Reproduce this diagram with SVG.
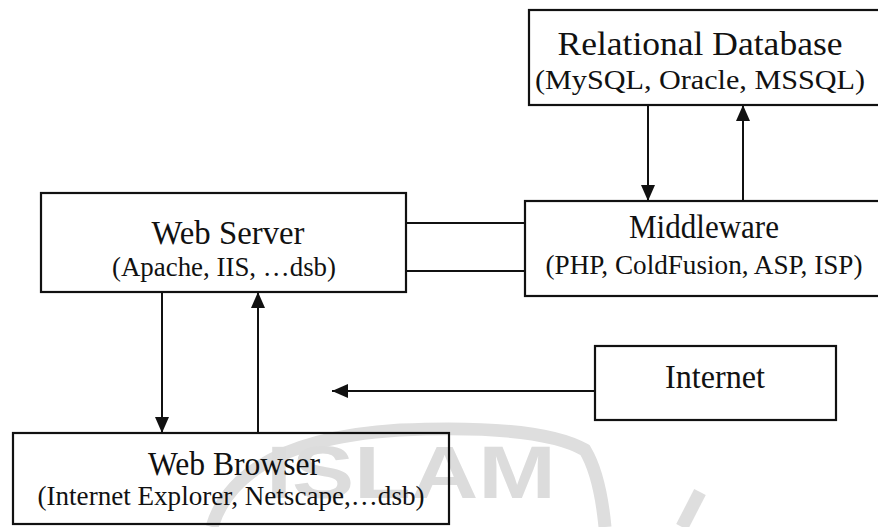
<svg xmlns="http://www.w3.org/2000/svg" width="878" height="527" viewBox="0 0 878 527">
<style>
.box{fill:none;stroke:#111;stroke-width:2.2}
.t{font-family:"Liberation Serif","Times New Roman",Tinos,serif;fill:#111;text-anchor:middle}
.h{font-size:33px}
.s{font-size:27px}
.c{fill:none;stroke:#111;stroke-width:2}
.wm{fill:none;stroke:#dedede;stroke-width:13}
</style>
<defs>
<marker id="ah" markerUnits="userSpaceOnUse" markerWidth="16" markerHeight="14" refX="16" refY="7" orient="auto">
<path d="M0,0 L16,7 L0,14 z" fill="#111"/>
</marker>
</defs>
<rect width="878" height="527" fill="#fff"/>
<g id="watermark">
<path class="wm" d="M212,527 Q238,440 400,430 Q540,424 585,450 Q600,475 605,527"/>
<path class="wm" d="M682,527 L700,492"/>
<text x="411" y="498" font-family="Liberation Sans,Arial,sans-serif" font-weight="bold" font-size="74" fill="#dcdcdc" text-anchor="middle" textLength="290" lengthAdjust="spacingAndGlyphs">ISLAM</text>
</g>
<g id="connectors">
<line class="c" x1="648" y1="105" x2="648" y2="201" marker-end="url(#ah)"/>
<line class="c" x1="743" y1="201" x2="743" y2="105" marker-end="url(#ah)"/>
<line class="c" x1="406" y1="223" x2="525" y2="223"/>
<line class="c" x1="406" y1="271" x2="525" y2="271"/>
<line class="c" x1="162" y1="292" x2="162" y2="433" marker-end="url(#ah)"/>
<line class="c" x1="258" y1="433" x2="258" y2="292" marker-end="url(#ah)"/>
<line class="c" x1="595" y1="391" x2="332" y2="391" marker-end="url(#ah)"/>
</g>
<g id="relational-database">
<rect class="box" x="529" y="10" width="360" height="95"/>
<text class="t h" x="700" y="55" textLength="285" lengthAdjust="spacingAndGlyphs">Relational Database</text>
<text class="t s" x="700" y="89" textLength="330" lengthAdjust="spacingAndGlyphs">(MySQL, Oracle, MSSQL)</text>
</g>
<g id="middleware">
<rect class="box" x="525" y="201" width="364" height="95"/>
<text class="t h" x="704" y="238" textLength="150" lengthAdjust="spacingAndGlyphs">Middleware</text>
<text class="t s" x="704" y="274" textLength="317" lengthAdjust="spacingAndGlyphs">(PHP, ColdFusion, ASP, ISP)</text>
</g>
<g id="web-server">
<rect class="box" x="41" y="193" width="365" height="99"/>
<text class="t h" x="228" y="244" textLength="153" lengthAdjust="spacingAndGlyphs">Web Server</text>
<text class="t s" x="224" y="276" textLength="224" lengthAdjust="spacingAndGlyphs">(Apache, IIS, …dsb)</text>
</g>
<g id="web-browser">
<rect class="box" x="13" y="433" width="436" height="91"/>
<text class="t h" x="234" y="475" textLength="172" lengthAdjust="spacingAndGlyphs">Web Browser</text>
<text class="t s" x="231" y="505" textLength="387" lengthAdjust="spacingAndGlyphs">(Internet Explorer, Netscape,…dsb)</text>
</g>
<g id="internet">
<rect class="box" x="595" y="346" width="241" height="74"/>
<text class="t h" x="715" y="388" textLength="100" lengthAdjust="spacingAndGlyphs">Internet</text>
</g>
</svg>
